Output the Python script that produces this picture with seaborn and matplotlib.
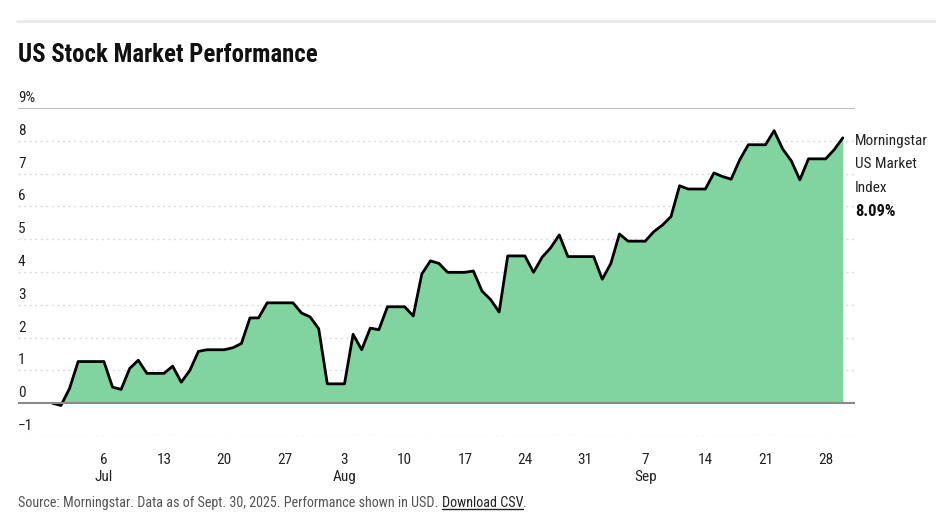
import matplotlib
matplotlib.use("Agg")
import matplotlib.pyplot as plt
from matplotlib.lines import Line2D
import matplotlib.transforms as mtransforms
import seaborn as sns
import pandas as pd

# ---------------------------------------------------------------------------
# Data: Morningstar US Market Index, cumulative performance (%), daily
# ---------------------------------------------------------------------------
start_date = "2025-06-30"
end_date = "2025-09-30"

index_values = [
    0.00,                                                  # Jun 30
    -0.07, 0.45, 1.27, 1.27, 1.27, 1.27, 0.49, 0.42, 1.06, 1.31,   # Jul 1-10
    0.91, 0.91, 0.91, 1.13, 0.64, 1.00, 1.58, 1.63, 1.63, 1.63,    # Jul 11-20
    1.69, 1.82, 2.60, 2.60, 3.06, 3.06, 3.06, 3.06, 2.75, 2.63,    # Jul 21-30
    2.27,                                                          # Jul 31
    0.59, 0.59, 0.59, 2.10, 1.63, 2.29, 2.24, 2.94, 2.94, 2.94,    # Aug 1-10
    2.66, 3.94, 4.34, 4.26, 3.99, 3.99, 3.99, 4.03, 3.42, 3.16,    # Aug 11-20
    2.78, 4.49, 4.49, 4.49, 3.99, 4.45, 4.74, 5.13, 4.47, 4.47,    # Aug 21-30
    4.47,                                                          # Aug 31
    4.47, 3.78, 4.26, 5.16, 4.94, 4.94, 4.94, 5.23, 5.43, 5.69,    # Sep 1-10
    6.63, 6.53, 6.53, 6.53, 7.02, 6.91, 6.83, 7.42, 7.88, 7.88,    # Sep 11-20
    7.88, 8.31, 7.75, 7.39, 6.81, 7.45, 7.45, 7.45, 7.73, 8.09,    # Sep 21-30
]

tick_dates = ["2025-07-06", "2025-07-13", "2025-07-20", "2025-07-27",
              "2025-08-03", "2025-08-10", "2025-08-17", "2025-08-24",
              "2025-08-31", "2025-09-07", "2025-09-14", "2025-09-21",
              "2025-09-28"]
tick_labels = ["6\nJul", "13", "20", "27", "3\nAug", "10", "17", "24",
               "31", "7\nSep", "14", "21", "28"]

y_ticks = [-1, 0, 1, 2, 3, 4, 5, 6, 7, 8, 9]
y_labels = ["\u22121", "0", "1", "2", "3", "4", "5", "6", "7", "8", "9%"]

series_name = ["Morningstar", "US Market", "Index"]
last_value_label = "8.09%"

df = pd.DataFrame({
    "date": pd.date_range(start_date, end_date, freq="D"),
    "value": index_values,
})

# ---------------------------------------------------------------------------
# Style
# ---------------------------------------------------------------------------
sns.set_theme(style="white")
plt.rcParams["font.family"] = ["Liberation Sans Narrow", "Roboto Condensed",
                               "Roboto", "DejaVu Sans"]

FILL = "#81d3a0"
W, H = 936, 520

fig = plt.figure(figsize=(W / 100, H / 100), dpi=100)
fig.patch.set_facecolor("white")

ax_left, ax_right = 18, 855
ax_top, ax_bottom = 108, 436
ax = fig.add_axes([ax_left / W, 1 - ax_bottom / H,
                   (ax_right - ax_left) / W, (ax_bottom - ax_top) / H])

ax.fill_between(df["date"], df["value"], 0, color=FILL, linewidth=0, zorder=2)
sns.lineplot(data=df, x="date", y="value", ax=ax, color="black",
             linewidth=2, zorder=3)

ax.set_ylim(-1, 9)
ax.set_xlim(pd.Timestamp("2025-06-26"), pd.Timestamp("2025-10-01 10:00"))

# gridlines
for y in y_ticks:
    if y == 0:
        ax.axhline(y, color="#8a8a8a", linewidth=1.5, zorder=4)
    elif y == 9:
        ax.axhline(y, color="#b0b0b0", linewidth=1.2, zorder=1)
    else:
        ax.axhline(y, color="#dcdcdc", linewidth=1, linestyle=(0, (1.5, 2.5)),
                   zorder=1)

for s in ax.spines.values():
    s.set_visible(False)

ax.set_yticks(y_ticks)
ax.set_yticklabels(y_labels)
ax.tick_params(axis="y", length=0, pad=0, labelsize=11, labelcolor="#222222")
offset = mtransforms.ScaledTranslation(0, 3 / 100, fig.dpi_scale_trans)
for lab in ax.get_yticklabels():
    lab.set_horizontalalignment("left")
    lab.set_verticalalignment("bottom")
    lab.set_transform(lab.get_transform() + offset)

ax.set_xticks(pd.to_datetime(tick_dates))
ax.set_xticklabels(tick_labels, linespacing=1.3)
ax.tick_params(axis="x", length=0, pad=12, labelsize=11, labelcolor="#222222")
for lab in ax.get_xticklabels():
    lab.set_verticalalignment("top")

ax.set_xlabel("")
ax.set_ylabel("")
ax.grid(False)

# end-of-line label
for i, line in enumerate(series_name):
    fig.text(ax_right / W, 1 - (141 + 23.5 * i) / H, line, fontsize=11,
             color="#222222", ha="left", va="center")
fig.text(ax_right / W, 1 - (141 + 23.5 * 3) / H, last_value_label,
         fontsize=12, fontweight="bold", color="#111111", ha="left",
         va="center")

# header
fig.add_artist(Line2D([17 / W, 1], [1 - 21 / H, 1 - 21 / H],
                      color="#e9e9e9", linewidth=2))
fig.text(18 / W, 1 - 55 / H, "US Stock Market Performance", fontsize=17.8,
         fontweight="bold", color="#111111", ha="left", va="center")

# footer
src = fig.text(18 / W, 1 - 503 / H,
               "Source: Morningstar. Data as of Sept. 30, 2025. "
               "Performance shown in USD. ",
               fontsize=10.2, color="#555555", ha="left", va="center")
fig.canvas.draw()
bb = src.get_window_extent()
dl = fig.text(bb.x1 / W, 1 - 503 / H, "Download CSV", fontsize=10.2,
              color="#222222", ha="left", va="center")
fig.canvas.draw()
bb2 = dl.get_window_extent()
fig.text(bb2.x1 / W, 1 - 503 / H, ".", fontsize=10.2, color="#555555",
         ha="left", va="center")
fig.add_artist(Line2D([bb2.x0 / W, bb2.x1 / W],
                      [(bb2.y0 + 1) / H, (bb2.y0 + 1) / H],
                      color="#222222", linewidth=1))

fig.savefig("out.png", dpi=100)
